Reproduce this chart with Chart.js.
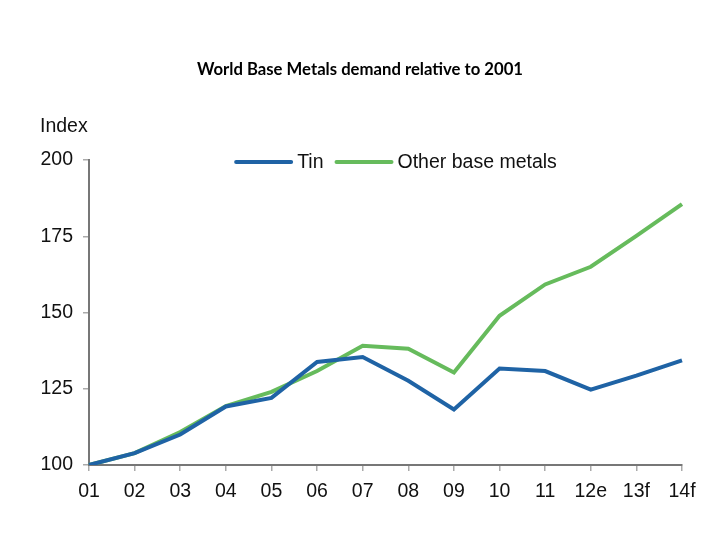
<!DOCTYPE html>
<html>
<head>
<meta charset="utf-8">
<script src="https://cdn.jsdelivr.net/npm/chart.js@4.4.1/dist/chart.umd.min.js"></script>
<style>
html,body{margin:0;padding:0;background:#fff;}
#wrap{width:720px;height:540px;position:relative;}
</style>
</head>
<body>
<div id="wrap"><canvas id="c" width="720" height="540"></canvas></div>
<script>
const categories = ["01","02","03","04","05","06","07","08","09","10","11","12e","13f","14f"];
const tinValues = [100, 103.9, 110.0, 119.2, 122.0, 133.8, 135.4, 127.6, 118.2, 131.6, 130.8, 124.7, 129.3, 134.3];
const otherValues = [100, 103.9, 110.8, 119.3, 124.0, 130.8, 139.1, 138.1, 130.3, 148.9, 159.2, 165.0, 175.1, 185.5];
const seriesNames = ["Tin", "Other base metals"];
const yTicks = [100, 125, 150, 175, 200];
const titleText = "World Base Metals demand relative to 2001";
const yAxisLabel = "Index";

const FONT = '"Liberation Sans", Arial, sans-serif';
const FSIZE = 19.5;

const decor = {
  id: 'decor',
  afterDraw(chart) {
    const ctx = chart.ctx;
    const ca = chart.chartArea;
    ctx.save();
    // title
    ctx.fillStyle = '#000';
    ctx.font = 'bold 16.7px Lato, "Open Sans", sans-serif';
    ctx.textAlign = 'center';
    ctx.textBaseline = 'middle';
    ctx.fillText(titleText, 360, 70);
    // y axis label
    ctx.font = FSIZE + 'px ' + FONT;
    ctx.textAlign = 'left';
    ctx.fillStyle = '#111';
    ctx.fillText(yAxisLabel, 40, 127);
    // legend
    const ds = chart.data.datasets;
    const lineLen = 55, gapLT = 6, gapItem = 13;
    let total = 0;
    ds.forEach((d, i) => {
      total += lineLen + gapLT + ctx.measureText(d.label).width;
      if (i < ds.length - 1) total += gapItem;
    });
    let x = (ca.left + ca.right) / 2 + 11 - total / 2;
    const y = ca.top + 2;
    ds.forEach((d) => {
      ctx.strokeStyle = d.borderColor;
      ctx.lineWidth = 4;
      ctx.lineCap = 'round';
      ctx.beginPath();
      ctx.moveTo(x, y);
      ctx.lineTo(x + lineLen, y);
      ctx.stroke();
      x += lineLen + gapLT;
      ctx.fillStyle = '#111';
      ctx.fillText(d.label, x, y + 1);
      x += ctx.measureText(d.label).width + gapItem;
    });
    ctx.restore();
  }
};

new Chart(document.getElementById('c'), {
  type: 'line',
  data: {
    labels: categories,
    datasets: [
      { label: seriesNames[0], data: tinValues, borderColor: '#1f63a5', backgroundColor: '#1f63a5', borderWidth: 4, pointRadius: 0, tension: 0, fill: false },
      { label: seriesNames[1], data: otherValues, borderColor: '#66bb5c', backgroundColor: '#66bb5c', borderWidth: 4, pointRadius: 0, tension: 0, fill: false }
    ]
  },
  options: {
    responsive: false,
    animation: false,
    layout: { padding: { left: 0, right: 38, top: 160, bottom: 0 } },
    plugins: { legend: { display: false }, title: { display: false }, tooltip: { enabled: false } },
    scales: {
      x: {
        type: 'category',
        offset: false,
        grid: { drawOnChartArea: false, drawTicks: true, tickLength: 6, color: '#aaa', lineWidth: 1.5 },
        border: { color: '#777', width: 2 },
        ticks: { color: '#111', font: { family: FONT, size: FSIZE }, padding: 9, maxRotation: 0, autoSkip: false },
        afterFit(s) { s.height = 75; }
      },
      y: {
        min: 100, max: 200,
        afterBuildTicks(s) { s.ticks = yTicks.map(v => ({ value: v })); },
        grid: { drawOnChartArea: false, drawTicks: true, tickLength: 6, color: '#aaa', lineWidth: 1.5 },
        border: { color: '#777', width: 2 },
        ticks: { color: '#111', font: { family: FONT, size: FSIZE }, padding: 10 },
        afterFit(s) { s.width = 89; }
      }
    }
  },
  plugins: [decor]
});
</script>
</body>
</html>
